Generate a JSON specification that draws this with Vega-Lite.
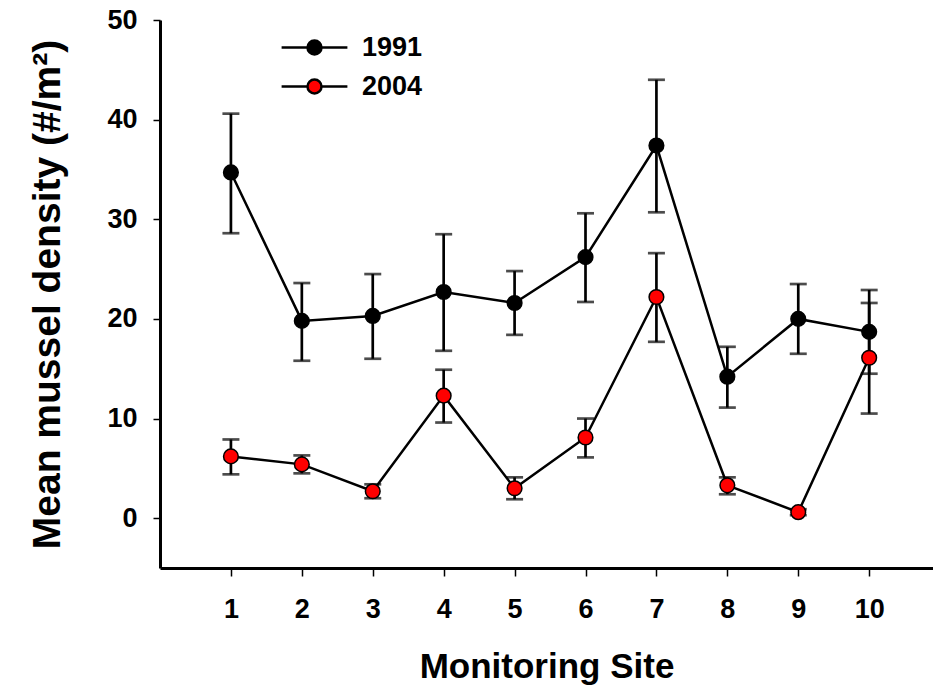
{
  "$schema": "https://vega.github.io/schema/vega-lite/v6.json",
  "width": 773,
  "height": 548,
  "autosize": {"type": "none"},
  "padding": {"left": 160, "top": 20, "right": 0, "bottom": 121},
  "background": "white",
  "config": {
    "view": {"stroke": null},
    "font": "Liberation Sans",
    "axis": {
      "labelFont": "Liberation Sans",
      "titleFont": "Liberation Sans",
      "labelFontWeight": "bold",
      "titleFontWeight": "bold",
      "labelColor": "black",
      "titleColor": "black",
      "domainColor": "black",
      "tickColor": "black",
      "grid": false
    }
  },
  "data": {
    "values": [
      {"site": 1, "year": "1991", "mean": 34.7, "lo": 28.6, "hi": 40.6},
      {"site": 2, "year": "1991", "mean": 19.8, "lo": 15.8, "hi": 23.6},
      {"site": 3, "year": "1991", "mean": 20.3, "lo": 16.0, "hi": 24.5},
      {"site": 4, "year": "1991", "mean": 22.7, "lo": 16.8, "hi": 28.5},
      {"site": 5, "year": "1991", "mean": 21.6, "lo": 18.4, "hi": 24.8},
      {"site": 6, "year": "1991", "mean": 26.2, "lo": 21.7, "hi": 30.6},
      {"site": 7, "year": "1991", "mean": 37.4, "lo": 30.7, "hi": 44.0},
      {"site": 8, "year": "1991", "mean": 14.2, "lo": 11.1, "hi": 17.2},
      {"site": 9, "year": "1991", "mean": 20.0, "lo": 16.5, "hi": 23.5},
      {"site": 10, "year": "1991", "mean": 18.7, "lo": 14.5, "hi": 22.9},
      {"site": 1, "year": "2004", "mean": 6.2, "lo": 4.4, "hi": 7.9},
      {"site": 2, "year": "2004", "mean": 5.4, "lo": 4.5, "hi": 6.3},
      {"site": 3, "year": "2004", "mean": 2.7, "lo": 2.0, "hi": 3.4},
      {"site": 4, "year": "2004", "mean": 12.3, "lo": 9.6, "hi": 14.9},
      {"site": 5, "year": "2004", "mean": 3.0, "lo": 1.9, "hi": 4.1},
      {"site": 6, "year": "2004", "mean": 8.1, "lo": 6.1, "hi": 10.0},
      {"site": 7, "year": "2004", "mean": 22.2, "lo": 17.7, "hi": 26.6},
      {"site": 8, "year": "2004", "mean": 3.3, "lo": 2.4, "hi": 4.1},
      {"site": 9, "year": "2004", "mean": 0.6, "lo": 0.3, "hi": 0.9},
      {"site": 10, "year": "2004", "mean": 16.1, "lo": 10.5, "hi": 21.6}
    ]
  },
  "encoding": {
    "x": {
      "field": "site",
      "type": "quantitative",
      "scale": {"domain": [0, 10.9], "nice": false, "zero": false},
      "axis": {
        "title": "Monitoring Site",
        "values": [1, 2, 3, 4, 5, 6, 7, 8, 9, 10],
        "format": "d",
        "labelFontSize": 27,
        "labelPadding": 20,
        "labelFlush": false,
        "tickSize": 8,
        "tickWidth": 1.5,
        "domainWidth": 3,
        "titleFontSize": 35,
        "titlePadding": 27
      }
    }
  },
  "layer": [
    {
      "mark": {"type": "rule", "color": "black", "strokeWidth": 2.7},
      "encoding": {
        "y": {
          "field": "lo",
          "type": "quantitative",
          "scale": {"domain": [-5, 50], "nice": false, "zero": false},
          "axis": {
            "title": "Mean mussel density (#/m²)",
            "values": [0, 10, 20, 30, 40, 50],
            "labelFontSize": 27,
            "labelPadding": 16,
            "tickSize": 7,
            "tickWidth": 1.5,
            "domainWidth": 3,
            "titleFontSize": 39,
            "titlePadding": 39
          }
        },
        "y2": {"field": "hi"}
      }
    },
    {
      "mark": {"type": "tick", "orient": "horizontal", "color": "black", "size": 17, "thickness": 2.7},
      "encoding": {"y": {"field": "lo", "type": "quantitative"}}
    },
    {
      "mark": {"type": "tick", "orient": "horizontal", "color": "black", "size": 17, "thickness": 2.7},
      "encoding": {"y": {"field": "hi", "type": "quantitative"}}
    },
    {
      "mark": {"type": "line", "color": "black", "strokeWidth": 2.5},
      "encoding": {
        "y": {"field": "mean", "type": "quantitative"},
        "detail": {"field": "year", "type": "nominal"}
      }
    },
    {
      "mark": {"type": "point", "shape": "circle", "filled": true, "opacity": 1, "stroke": "black", "strokeWidth": 1.5, "size": 215},
      "encoding": {
        "y": {"field": "mean", "type": "quantitative"},
        "fill": {
          "field": "year",
          "type": "nominal",
          "scale": {"domain": ["1991", "2004"], "range": ["black", "red"]},
          "legend": {
            "title": null,
            "orient": "none",
            "legendX": 141,
            "legendY": 14,
            "padding": 0,
            "symbolType": "M-4.7,0H-1M1,0H4.7M1,0A1,1,0,1,1,-1,0A1,1,0,1,1,1,0",
            "symbolSize": 196,
            "symbolStrokeColor": "black",
            "symbolStrokeWidth": 2.5,
            "symbolOpacity": 1,
            "labelFont": "Liberation Sans",
            "labelFontSize": 27,
            "labelFontWeight": "bold",
            "labelColor": "black",
            "labelOffset": 34,
            "rowPadding": 11
          }
        }
      }
    }
  ]
}
